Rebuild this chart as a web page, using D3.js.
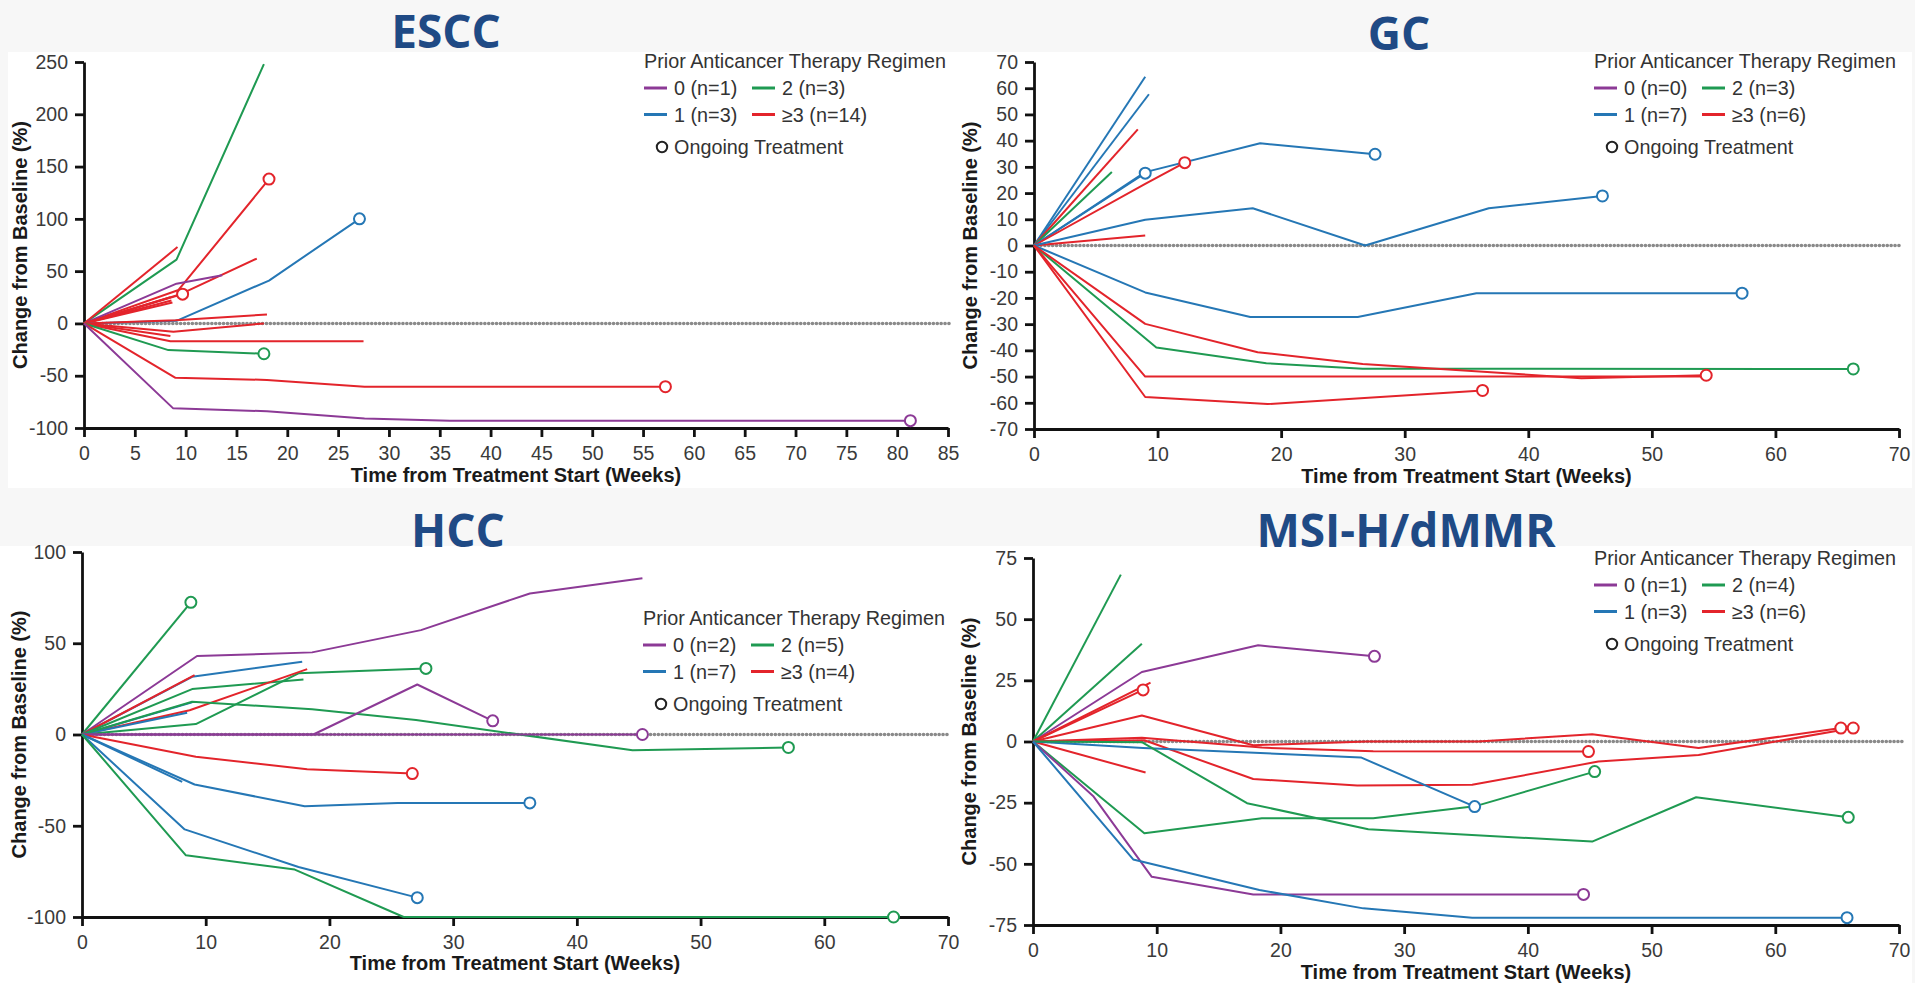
<!DOCTYPE html>
<html>
<head>
<meta charset="utf-8">
<script src="https://cdn.jsdelivr.net/npm/d3@7"></script>
<style>
  html, body { margin: 0; padding: 0; background: #f7f7f7; }
  svg { display: block; }
</style>
</head>
<body>
<div id="chart"></div>
<script>
// groups: 0 = purple, 1 = blue, 2 = green, 3 = red (>=3)
const groupColors = ["#8c3a96", "#2577b5", "#1f9a52", "#e3242b"];

// [week, % change]; on = ongoing treatment (open circle at end)
const escc = [
  {g: 2, pts: [[0,0],[9.1,61],[17.7,248]]},
  {g: 3, pts: [[0,0],[9.2,73]]},
  {g: 3, pts: [[0,0],[9.3,32],[18.2,138]], on: true},
  {g: 3, pts: [[0,0],[9.5,28],[17,62]]},
  {g: 0, pts: [[0,0],[9.1,38],[13.6,46]]},
  {g: 3, pts: [[0,0],[8.5,25]]},
  {g: 3, pts: [[0,0],[8.6,22]]},
  {g: 3, pts: [[0,0],[8.7,20]]},
  {g: 3, pts: [[0,0],[9.7,28]], on: true},
  {g: 1, pts: [[0,0],[9.1,2.5],[18.2,41],[27.1,100]], on: true},
  {g: 3, pts: [[0,0],[9,3],[18,8.6]]},
  {g: 3, pts: [[0,0],[8.8,-8],[17.7,0]]},
  {g: 3, pts: [[0,0],[8.5,-12]]},
  {g: 3, pts: [[0,0],[8.5,-17],[27.5,-17]]},
  {g: 2, pts: [[0,0],[8.3,-25.5],[17.7,-29]], on: true},
  {g: 3, pts: [[0,0],[9,-52],[18,-54],[27.6,-60.5],[57.2,-60.5]], on: true},
  {g: 0, pts: [[0,0],[8.75,-81],[18,-84],[27.6,-91],[36,-93],[81.3,-93]], on: true}
];

const gc = [
  {g: 1, pts: [[0,0],[9,64.4]]},
  {g: 1, pts: [[0,0],[9.3,57.7]]},
  {g: 3, pts: [[0,0],[8.4,44.3]]},
  {g: 2, pts: [[0,0],[6.3,28]]},
  {g: 1, pts: [[0,0],[9,27.6]], on: true},
  {g: 1, pts: [[0,0],[9,28],[18.3,39],[27.6,34.8]], on: true},
  {g: 3, pts: [[0,0],[9,23.5],[12.2,31.6]], on: true},
  {g: 3, pts: [[0,0],[9,3.8]]},
  {g: 1, pts: [[0,0],[9,9.8],[17.7,14.2],[26.8,0],[36.8,14.2],[46,18.9]], on: true},
  {g: 1, pts: [[0,0],[9,-17.9],[17.5,-27.3],[26.2,-27.3],[35.8,-18.2],[57.3,-18.2]], on: true},
  {g: 3, pts: [[0,0],[9,-50],[54.4,-50]]},
  {g: 2, pts: [[0,0],[9.9,-38.9],[18.8,-44.9],[26.6,-47],[66.3,-47.1]], on: true},
  {g: 3, pts: [[0,0],[9,-29.9],[18.1,-40.7],[26.6,-45.2],[44.3,-50.6],[54.4,-49.5]], on: true},
  {g: 3, pts: [[0,0],[9,-57.8],[18.9,-60.5],[36.3,-55.3]], on: true}
];

const hcc = [
  {g: 2, pts: [[0,0],[8.8,72.4]], on: true},
  {g: 0, pts: [[0,0],[9.3,43],[18.6,45],[27.4,57.2],[36.2,77.3],[45.3,85.6]]},
  {g: 1, pts: [[0,0],[8.9,31.6],[17.8,39.9]]},
  {g: 3, pts: [[0,0],[9.1,32.5]]},
  {g: 2, pts: [[0,0],[8.9,24.9],[17.9,30.2]]},
  {g: 2, pts: [[0,0],[9.2,5.7],[17.5,33.5],[27.8,36.2]], on: true},
  {g: 3, pts: [[0,0],[8.7,13.3],[18.2,35.8]]},
  {g: 1, pts: [[0,0],[8.9,17.6]]},
  {g: 1, pts: [[0,0],[8.5,11.9]]},
  {g: 2, pts: [[0,0],[8.9,17.9],[18.6,13.9],[27,7.9],[44.5,-8.6],[57.1,-7.1]], on: true},
  {g: 0, pts: [[0,0],[45.3,0]], on: true},
  {g: 0, pts: [[0,0],[18.7,0],[27.1,27.4],[33.2,7.5]], on: true},
  {g: 3, pts: [[0,0],[9.2,-12.2],[18.2,-19],[26.7,-21.4]], on: true},
  {g: 1, pts: [[0,0],[8.1,-26]]},
  {g: 1, pts: [[0,0],[9.1,-27.4],[18,-39.3],[25.5,-37.5],[36.2,-37.5]], on: true},
  {g: 1, pts: [[0,0],[8.3,-52],[17.5,-72.6],[27.1,-89.4]], on: true},
  {g: 2, pts: [[0,0],[8.4,-66.2],[17.2,-74],[26,-100],[65.6,-100]], on: true}
];

const msi = [
  {g: 2, pts: [[0,0],[7.1,68.2]]},
  {g: 2, pts: [[0,0],[8.8,40]]},
  {g: 0, pts: [[0,0],[8.8,28.4],[18.2,39.3],[27.6,34.8]], on: true},
  {g: 3, pts: [[0,0],[9.5,24.1]]},
  {g: 3, pts: [[0,0],[8.9,21.1]], on: true},
  {g: 3, pts: [[0,0],[8.8,10.6],[17.8,-1.5],[27,0],[36,0],[45.2,3],[53.8,-2.7],[65.3,5.5]], on: true},
  {g: 3, pts: [[0,0],[8.8,1.5],[18.5,-2.5],[27.5,-4],[44.9,-4.1]], on: true},
  {g: 3, pts: [[0,0],[9,0.5],[17.8,-15.3],[26.2,-18],[35.5,-17.7],[45.7,-8.2],[53.8,-5.5],[66.3,5.5]], on: true},
  {g: 3, pts: [[0,0],[9.1,-12.7]]},
  {g: 1, pts: [[0,0],[8.9,-2.7],[26.5,-6.5],[35.7,-26.6]], on: true},
  {g: 2, pts: [[0,0],[8.8,-0.3],[17.3,-25.2],[27.1,-35.9],[45.2,-40.9],[53.6,-22.8],[65.9,-31]], on: true},
  {g: 2, pts: [[0,0],[9,-37.5],[18.5,-31.4],[27.5,-31.4],[35.7,-26.5],[45.4,-12.3]], on: true},
  {g: 0, pts: [[0,0],[4.9,-22.5],[9.6,-55.3],[17.8,-62.5],[44.5,-62.5]], on: true},
  {g: 1, pts: [[0,0],[8.1,-48.2],[18.3,-60.7],[26.7,-68.2],[35.5,-72],[65.8,-72]], on: true}
];

const esccXTicks = d3.range(0, 86, 5);
const weekTicks = [0, 10, 20, 30, 40, 50, 60, 70];
const esccYTicks = [-100, -50, 0, 50, 100, 150, 200, 250];
const gcYTicks = d3.range(-70, 71, 10);
const hccYTicks = [-100, -50, 0, 50, 100];
const msiYTicks = [-75, -50, -25, 0, 25, 50, 75];

const esccLegend = ["0 (n=1)", "1 (n=3)", "2 (n=3)", "\u22653 (n=14)"];
const gcLegend = ["0 (n=0)", "1 (n=7)", "2 (n=3)", "\u22653 (n=6)"];
const hccLegend = ["0 (n=2)", "1 (n=7)", "2 (n=5)", "\u22653 (n=4)"];
const msiLegend = ["0 (n=1)", "1 (n=3)", "2 (n=4)", "\u22653 (n=6)"];

const legendTitle = "Prior Anticancer Therapy Regimen";
const xLabel = "Time from Treatment Start (Weeks)";
const yLabel = "Change from Baseline (%)";

// layout (pixel positions)
const panels = [
  {title: "ESCC", data: escc, xDom: [0, 85], xTicks: esccXTicks, yDom: [-100, 250], yTicks: esccYTicks,
   legend: esccLegend, left: 84, right: 948, top: 62, bottom: 428, titleX: 446, titleY: 48,
   legX: 644, legY: 68, yLabX: 27, xLabY: 482, zeroEnd: 950},
  {title: "GC", data: gc, xDom: [0, 70], xTicks: weekTicks, yDom: [-70, 70], yTicks: gcYTicks,
   legend: gcLegend, left: 1034, right: 1899, top: 62, bottom: 429, titleX: 1399, titleY: 50,
   legX: 1594, legY: 68, yLabX: 977, xLabY: 483, zeroEnd: 1902},
  {title: "HCC", data: hcc, xDom: [0, 70], xTicks: weekTicks, yDom: [-100, 100], yTicks: hccYTicks,
   legend: hccLegend, left: 82, right: 948, top: 552, bottom: 917, titleX: 458, titleY: 547,
   legX: 643, legY: 625, yLabX: 26, xLabY: 970, zeroEnd: 950},
  {title: "MSI-H/dMMR", data: msi, xDom: [0, 70], xTicks: weekTicks, yDom: [-75, 75], yTicks: msiYTicks,
   legend: msiLegend, left: 1033, right: 1899, top: 558, bottom: 925, titleX: 1406, titleY: 547,
   legX: 1594, legY: 565, yLabX: 976, xLabY: 979, zeroEnd: 1902}
];

const width = 1915, height = 983;
const tickFont = "Liberation Sans, Arial, sans-serif";

const svg = d3.select("#chart")
  .append("svg")
  .attr("width", width)
  .attr("height", height)
  .attr("viewBox", [0, 0, width, height]);

svg.append("rect").attr("width", width).attr("height", height).attr("fill", "#f7f7f7");
// white picture areas
svg.append("rect").attr("x", 8).attr("y", 52).attr("width", 1904).attr("height", 436).attr("fill", "#fff");
svg.append("rect").attr("x", 0).attr("y", 546).attr("width", 1912).attr("height", 437).attr("fill", "#fff");

for (const p of panels) {
  const x = d3.scaleLinear().domain(p.xDom).range([p.left, p.right]);
  const y = d3.scaleLinear().domain(p.yDom).range([p.bottom, p.top]);
  const g = svg.append("g");

  // title
  svg.append("text")
    .attr("x", p.titleX).attr("y", p.titleY)
    .attr("text-anchor", "middle")
    .attr("font-family", "Open Sans, sans-serif")
    .attr("font-weight", 700)
    .attr("font-size", 46)
    .attr("fill", "#1f4a85")
    .text(p.title);

  // dotted reference line at 0
  g.append("line")
    .attr("x1", x(0) + 3).attr("x2", p.zeroEnd)
    .attr("y1", y(0)).attr("y2", y(0))
    .attr("stroke", "#8a8a8a")
    .attr("stroke-width", 3.6)
    .attr("stroke-linecap", "round")
    .attr("stroke-dasharray", "0.1,3.8");

  // axes
  const xAxis = g.append("g")
    .attr("transform", `translate(0,${p.bottom})`)
    .call(d3.axisBottom(x).tickValues(p.xTicks).tickFormat(d => String(d))
      .tickSize(9).tickSizeOuter(0).tickPadding(9));
  const yAxis = g.append("g")
    .attr("transform", `translate(${p.left},0)`)
    .call(d3.axisLeft(y).tickValues(p.yTicks).tickFormat(d => String(d))
      .tickSize(9).tickSizeOuter(0).tickPadding(7));
  for (const ax of [xAxis, yAxis]) {
    ax.select(".domain").attr("stroke", "#111").attr("stroke-width", 2.8);
    ax.selectAll(".tick line").attr("stroke", "#111").attr("stroke-width", 2.8);
    ax.selectAll(".tick text")
      .attr("fill", "#3a3a3a")
      .attr("font-family", tickFont)
      .attr("font-size", 19.5);
  }

  // axis labels
  g.append("text")
    .attr("x", (p.left + p.right) / 2).attr("y", p.xLabY)
    .attr("text-anchor", "middle")
    .attr("font-family", tickFont).attr("font-weight", 700).attr("font-size", 20)
    .attr("fill", "#1a1a1a")
    .text(xLabel);
  g.append("text")
    .attr("transform", `translate(${p.yLabX},${(p.top + p.bottom) / 2}) rotate(-90)`)
    .attr("text-anchor", "middle")
    .attr("font-family", tickFont).attr("font-weight", 700).attr("font-size", 20)
    .attr("fill", "#1a1a1a")
    .text(yLabel);

  // patient lines
  const line = d3.line().x(d => x(d[0])).y(d => y(d[1]));
  g.append("g")
    .selectAll("path")
    .data(p.data)
    .join("path")
      .attr("d", d => line(d.pts))
      .attr("fill", "none")
      .attr("stroke", d => groupColors[d.g])
      .attr("stroke-width", 2)
      .attr("stroke-linejoin", "round");

  // ongoing treatment markers
  g.append("g")
    .selectAll("circle")
    .data(p.data.filter(d => d.on))
    .join("circle")
      .attr("cx", d => x(d.pts[d.pts.length - 1][0]))
      .attr("cy", d => y(d.pts[d.pts.length - 1][1]))
      .attr("r", 5.5)
      .attr("fill", "#fff")
      .attr("stroke", d => groupColors[d.g])
      .attr("stroke-width", 2);

  // legend
  const lg = g.append("g")
    .attr("transform", `translate(${p.legX},${p.legY})`)
    .attr("font-family", tickFont)
    .attr("font-size", 19.8)
    .attr("fill", "#333");
  lg.append("text").attr("x", 0).attr("y", 0).text(legendTitle);
  const slots = [[0, 0], [0, 1], [1, 0], [1, 1]];
  p.legend.forEach((label, i) => {
    const [col, row] = slots[i];
    const ox = col * 108, oy = 20 + row * 26.5;
    lg.append("line")
      .attr("x1", ox).attr("x2", ox + 23)
      .attr("y1", oy).attr("y2", oy)
      .attr("stroke", groupColors[i]).attr("stroke-width", 3);
    lg.append("text").attr("x", ox + 30).attr("y", oy + 7).text(label);
  });
  lg.append("circle")
    .attr("cx", 18).attr("cy", 79).attr("r", 5.2)
    .attr("fill", "none").attr("stroke", "#222").attr("stroke-width", 2);
  lg.append("text").attr("x", 30).attr("y", 86).text("Ongoing Treatment");
}
</script>
</body>
</html>
